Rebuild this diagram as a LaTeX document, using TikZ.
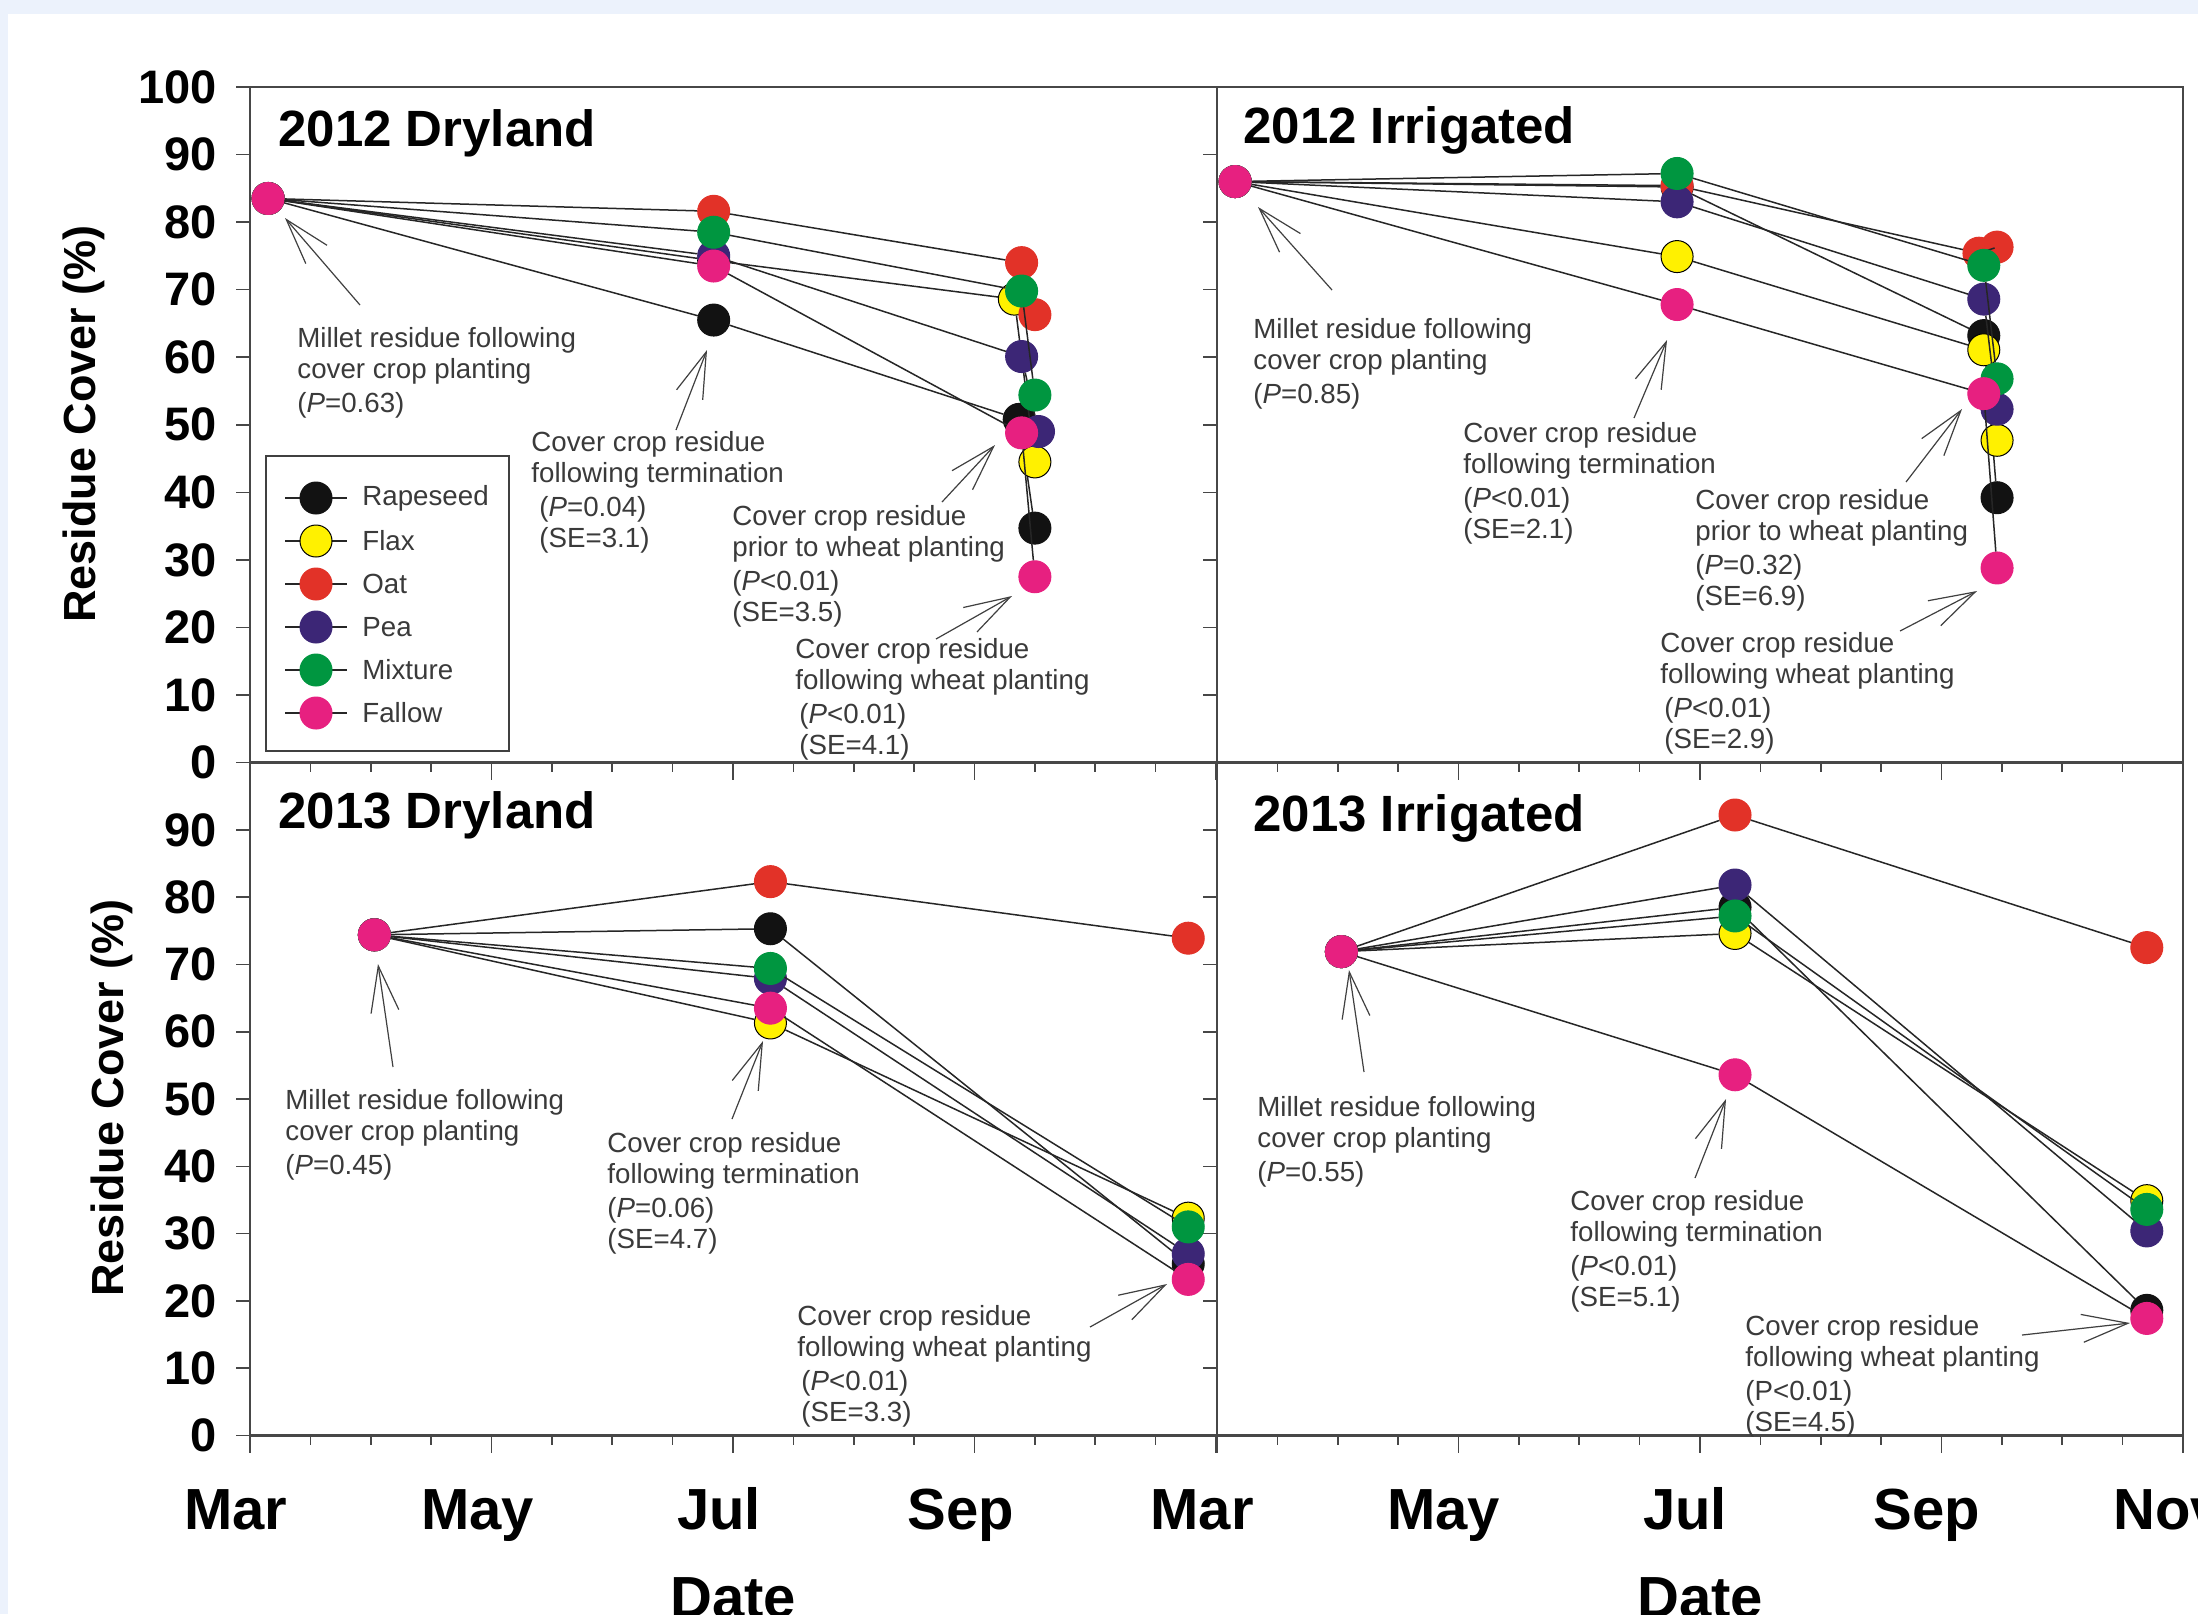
\documentclass[tikz,border=0pt]{standalone}
\usepackage{fontspec}
\setmainfont{Liberation Sans}
\usetikzlibrary{arrows.meta}

\definecolor{rapecol}{RGB}{18,18,18}
\definecolor{flaxcol}{RGB}{255,241,0}
\definecolor{oatcol}{RGB}{226,50,40}
\definecolor{peacol}{RGB}{60,38,118}
\definecolor{mixcol}{RGB}{0,150,64}
\definecolor{fallowcol}{RGB}{231,32,128}
\definecolor{pageblue}{RGB}{236,242,252}
\definecolor{notegray}{RGB}{58,58,58}

% one crop: markers at the sampling dates, then the line through them
\newcommand{\fourdates}[6]{%
  \node[#1] (#2-1) at #3 {};
  \node[#1] (#2-2) at #4 {};
  \node[#1] (#2-3) at #5 {};
  \node[#1] (#2-4) at #6 {};
  \draw[dataline] (#2-1) -- (#2-2) -- (#2-3) -- (#2-4);
}
\newcommand{\threedates}[5]{%
  \node[#1] (#2-1) at #3 {};
  \node[#1] (#2-2) at #4 {};
  \node[#1] (#2-3) at #5 {};
  \draw[dataline] (#2-1) -- (#2-2) -- (#2-3);
}

\tikzset{
  mk/.style={circle, inner sep=0pt, minimum size=16pt, line width=0.5pt},
  rapeMk/.style={mk, fill=rapecol, draw=rapecol},
  flaxMk/.style={mk, fill=flaxcol, draw=black},
  oatMk/.style={mk, fill=oatcol, draw=oatcol},
  peaMk/.style={mk, fill=peacol, draw=peacol},
  mixMk/.style={mk, fill=mixcol, draw=mixcol},
  fallowMk/.style={mk, fill=fallowcol, draw=fallowcol},
  dataline/.style={draw=black!85, line width=0.75pt},
  frameline/.style={draw=black!72, line width=1.4pt},
  tickline/.style={draw=black!72, line width=0.8pt},
  legendbox/.style={draw=black!75, line width=0.9pt},
  callout/.style={draw=black!75, line width=0.6pt, -{Straight Barb[length=23pt, width=14pt]}},
  note/.style={anchor=north west, inner sep=0pt, align=left, text=notegray, font=\fontsize{13.85}{15.5}\selectfont},
  legtext/.style={anchor=west, inner sep=0pt, text=notegray, font=\fontsize{13.85}{15.5}\selectfont},
  ticklabel/.style={anchor=east, inner sep=0pt, font=\fontsize{23.5}{26}\selectfont\bfseries},
  monthlabel/.style={anchor=base, inner sep=0pt, font=\fontsize{29}{32}\selectfont\bfseries},
  axistitle/.style={inner sep=0pt, rotate=90, font=\fontsize{22.5}{26}\selectfont\bfseries},
  paneltitle/.style={anchor=base west, inner sep=0pt, font=\fontsize{25.5}{30}\selectfont\bfseries},
}

\begin{document}
\begin{tikzpicture}[x=0.5pt, y=-0.5pt]
\useasboundingbox (0,0) rectangle (2198,1614);
\fill[white] (0,0) rectangle (2198,1614);
\fill[pageblue] (0,0) rectangle (2198,14);
\fill[pageblue] (0,0) rectangle (8,1614);

% ticks: x every half month (major every two months), y every 10 %
\foreach \ox/\oy/\dy in {250/762.5/67.55, 1217/762.5/67.55, 250/1435.5/67.3, 1217/1435.5/67.3}{
  \foreach \k in {0,...,16} \draw[tickline] (\ox+\k*60.375,\oy) -- ++(0,9);
  \foreach \k in {0,...,4} \draw[tickline] (\ox+\k*241.5,\oy) -- ++(0,17);
  \foreach \v in {0,...,10} \draw[tickline] (\ox,\oy-\v*\dy) -- ++(-14,0);
}

% frames
\draw[frameline] (250,87) rectangle (2183,1435.5);
\draw[frameline] (1217,87) -- (1217,1435.5);
\draw[frameline] (250,762.5) -- (2183,762.5);

% axis labels
\foreach \v in {0,10,...,100} \node[ticklabel] (ytop-\v) at (217,762.5-\v*6.755) {\v};
\foreach \v in {0,10,...,90} \node[ticklabel] (ybot-\v) at (217,1435.5-\v*6.73) {\v};
\foreach \m [count=\i from 0] in {Mar,May,Jul,Sep,Mar,May,Jul,Sep,Nov}
  \node[monthlabel] (month-\i) at (236+\i*241.5,1529) {\m};
\node[monthlabel] (date-left) at (733,1617) {Date};
\node[monthlabel] (date-right) at (1700,1617) {Date};
\node[axistitle] (ytitle-top) at (84,424) {Residue Cover (\%)};
\node[axistitle] (ytitle-bot) at (112,1098) {Residue Cover (\%)};

% panel titles
\node[paneltitle] (title-tl) at (278,146) {2012 Dryland};
\node[paneltitle] (title-tr) at (1243,143) {2012 Irrigated};
\node[paneltitle] (title-bl) at (278,828) {2013 Dryland};
\node[paneltitle] (title-br) at (1253,831) {2013 Irrigated};

% legend
\draw[legendbox] (266,456) rectangle (509,751);
\draw[dataline] (285,498) -- (347,498);
\node[rapeMk] (leg-rape) at (316,498) {};
\node[legtext] (legtxt-rape) at (362,498) {Rapeseed};
\draw[dataline] (285,541) -- (347,541);
\node[flaxMk] (leg-flax) at (316,541) {};
\node[legtext] (legtxt-flax) at (362,541) {Flax};
\draw[dataline] (285,584) -- (347,584);
\node[oatMk] (leg-oat) at (316,584) {};
\node[legtext] (legtxt-oat) at (362,584) {Oat};
\draw[dataline] (285,627) -- (347,627);
\node[peaMk] (leg-pea) at (316,627) {};
\node[legtext] (legtxt-pea) at (362,627) {Pea};
\draw[dataline] (285,670) -- (347,670);
\node[mixMk] (leg-mix) at (316,670) {};
\node[legtext] (legtxt-mix) at (362,670) {Mixture};
\draw[dataline] (285,713) -- (347,713);
\node[fallowMk] (leg-fallow) at (316,713) {};
\node[legtext] (legtxt-fallow) at (362,713) {Fallow};

% 2012 Dryland
\begin{scope}[shift={(250,762.5)}, x=60.375pt, y=3.3775pt]
\fourdates{rapeMk}{tl-rape}{(0.15,83.5)}{(3.84,65.5)}{(6.37,50.8)}{(6.50,34.7)}
\fourdates{flaxMk}{tl-flax}{(0.15,83.5)}{(3.84,74.3)}{(6.33,68.6)}{(6.50,44.5)}
\fourdates{oatMk}{tl-oat}{(0.15,83.5)}{(3.84,81.6)}{(6.39,74.0)}{(6.50,66.3)}
\fourdates{peaMk}{tl-pea}{(0.15,83.5)}{(3.84,75.0)}{(6.39,60.1)}{(6.53,49.0)}
\fourdates{mixMk}{tl-mix}{(0.15,83.5)}{(3.84,78.5)}{(6.39,69.8)}{(6.50,54.4)}
\fourdates{fallowMk}{tl-fallow}{(0.15,83.5)}{(3.84,73.5)}{(6.39,48.8)}{(6.50,27.5)}
\end{scope}

% 2012 Irrigated
\begin{scope}[shift={(1217,762.5)}, x=60.375pt, y=3.3775pt]
\fourdates{rapeMk}{tr-rape}{(0.15,86.0)}{(3.81,85.2)}{(6.35,63.2)}{(6.46,39.2)}
\fourdates{flaxMk}{tr-flax}{(0.15,86.0)}{(3.81,74.9)}{(6.35,61.1)}{(6.46,47.7)}
\fourdates{oatMk}{tr-oat}{(0.15,86.0)}{(3.81,85.4)}{(6.31,75.4)}{(6.46,76.3)}
\fourdates{peaMk}{tr-pea}{(0.15,86.0)}{(3.81,83.0)}{(6.35,68.6)}{(6.46,52.3)}
\fourdates{mixMk}{tr-mix}{(0.15,86.0)}{(3.81,87.2)}{(6.35,73.6)}{(6.46,56.8)}
\fourdates{fallowMk}{tr-fallow}{(0.15,86.0)}{(3.81,67.8)}{(6.35,54.6)}{(6.46,28.8)}
\end{scope}

% 2013 Dryland
\begin{scope}[shift={(250,1435.5)}, x=60.375pt, y=3.365pt]
\threedates{rapeMk}{bl-rape}{(1.03,74.4)}{(4.31,75.3)}{(7.77,25.5)}
\threedates{flaxMk}{bl-flax}{(1.03,74.4)}{(4.31,61.3)}{(7.77,32.3)}
\threedates{oatMk}{bl-oat}{(1.03,74.4)}{(4.31,82.3)}{(7.77,73.9)}
\threedates{peaMk}{bl-pea}{(1.03,74.4)}{(4.31,67.9)}{(7.77,27.0)}
\threedates{mixMk}{bl-mix}{(1.03,74.4)}{(4.31,69.4)}{(7.77,31.0)}
\threedates{fallowMk}{bl-fallow}{(1.03,74.4)}{(4.31,63.5)}{(7.77,23.2)}
\end{scope}

% 2013 Irrigated
\begin{scope}[shift={(1217,1435.5)}, x=60.375pt, y=3.365pt]
\threedates{rapeMk}{br-rape}{(1.03,71.9)}{(4.29,78.5)}{(7.70,18.6)}
\threedates{flaxMk}{br-flax}{(1.03,71.9)}{(4.29,74.6)}{(7.70,34.9)}
\threedates{oatMk}{br-oat}{(1.03,71.9)}{(4.29,92.2)}{(7.70,72.5)}
\threedates{peaMk}{br-pea}{(1.03,71.9)}{(4.29,81.8)}{(7.70,30.4)}
\threedates{mixMk}{br-mix}{(1.03,71.9)}{(4.29,77.2)}{(7.70,33.6)}
\threedates{fallowMk}{br-fallow}{(1.03,71.9)}{(4.29,53.6)}{(7.70,17.4)}
\end{scope}

% notes, 2012 Dryland
\node[note] (tl-millet) at (297,327) {Millet residue following\\cover crop planting\\[1.5pt](\textit{P}=0.63)};
\node[note] (tl-term) at (531,431) {Cover crop residue\\following termination\\[1.5pt]\hspace*{4pt}(\textit{P}=0.04)\\\hspace*{4pt}(SE=3.1)};
\node[note] (tl-prior) at (732,505) {Cover crop residue\\prior to wheat planting\\[1.5pt](\textit{P}<0.01)\\(SE=3.5)};
\node[note] (tl-wheat) at (795,638) {Cover crop residue\\following wheat planting\\[1.5pt]\hspace*{2pt}(\textit{P}<0.01)\\\hspace*{2pt}(SE=4.1)};
\coordinate (tl-millet-tail) at (360,305);  \coordinate (tl-millet-tip) at (285,218);
\coordinate (tl-term-tail) at (676,430);    \coordinate (tl-term-tip) at (707,350);
\coordinate (tl-prior-tail) at (942,502);   \coordinate (tl-prior-tip) at (995,445);
\coordinate (tl-wheat-tail) at (936,639);   \coordinate (tl-wheat-tip) at (1012,596);
\draw[callout] (tl-millet-tail) -- (tl-millet-tip);
\draw[callout] (tl-term-tail) -- (tl-term-tip);
\draw[callout] (tl-prior-tail) -- (tl-prior-tip);
\draw[callout] (tl-wheat-tail) -- (tl-wheat-tip);

% notes, 2012 Irrigated
\node[note] (tr-millet) at (1253,318) {Millet residue following\\cover crop planting\\[1.5pt](\textit{P}=0.85)};
\node[note] (tr-term) at (1463,422) {Cover crop residue\\following termination\\[1.5pt](\textit{P}<0.01)\\(SE=2.1)};
\node[note] (tr-prior) at (1695,489) {Cover crop residue\\prior to wheat planting\\[1.5pt](\textit{P}=0.32)\\(SE=6.9)};
\node[note] (tr-wheat) at (1660,632) {Cover crop residue\\following wheat planting\\[1.5pt]\hspace*{2pt}(\textit{P}<0.01)\\\hspace*{2pt}(SE=2.9)};
\coordinate (tr-millet-tail) at (1332,290); \coordinate (tr-millet-tip) at (1258,207);
\coordinate (tr-term-tail) at (1634,418);   \coordinate (tr-term-tip) at (1667,340);
\coordinate (tr-prior-tail) at (1906,482);  \coordinate (tr-prior-tip) at (1962,409);
\coordinate (tr-wheat-tail) at (1900,631);  \coordinate (tr-wheat-tip) at (1977,591);
\draw[callout] (tr-millet-tail) -- (tr-millet-tip);
\draw[callout] (tr-term-tail) -- (tr-term-tip);
\draw[callout] (tr-prior-tail) -- (tr-prior-tip);
\draw[callout] (tr-wheat-tail) -- (tr-wheat-tip);

% notes, 2013 Dryland
\node[note] (bl-millet) at (285,1089) {Millet residue following\\cover crop planting\\[1.5pt](\textit{P}=0.45)};
\node[note] (bl-term) at (607,1132) {Cover crop residue\\following termination\\[1.5pt](\textit{P}=0.06)\\(SE=4.7)};
\node[note] (bl-wheat) at (797,1305) {Cover crop residue\\following wheat planting\\[1.5pt]\hspace*{2pt}(\textit{P}<0.01)\\\hspace*{2pt}(SE=3.3)};
\coordinate (bl-millet-tail) at (393,1067); \coordinate (bl-millet-tip) at (378,964);
\coordinate (bl-term-tail) at (732,1119);   \coordinate (bl-term-tip) at (763,1041);
\coordinate (bl-wheat-tail) at (1090,1327); \coordinate (bl-wheat-tip) at (1167,1284);
\draw[callout] (bl-millet-tail) -- (bl-millet-tip);
\draw[callout] (bl-term-tail) -- (bl-term-tip);
\draw[callout] (bl-wheat-tail) -- (bl-wheat-tip);

% notes, 2013 Irrigated
\node[note] (br-millet) at (1257,1096) {Millet residue following\\cover crop planting\\[1.5pt](\textit{P}=0.55)};
\node[note] (br-term) at (1570,1190) {Cover crop residue\\following termination\\[1.5pt](\textit{P}<0.01)\\(SE=5.1)};
\node[note] (br-wheat) at (1745,1315) {Cover crop residue\\following wheat planting\\[1.5pt](P<0.01)\\(SE=4.5)};
\coordinate (br-millet-tail) at (1364,1072); \coordinate (br-millet-tip) at (1349,970);
\coordinate (br-term-tail) at (1695,1178);   \coordinate (br-term-tip) at (1726,1099);
\coordinate (br-wheat-tail) at (2022,1335);  \coordinate (br-wheat-tip) at (2130,1323);
\draw[callout] (br-millet-tail) -- (br-millet-tip);
\draw[callout] (br-term-tail) -- (br-term-tip);
\draw[callout] (br-wheat-tail) -- (br-wheat-tip);

\end{tikzpicture}
\end{document}
